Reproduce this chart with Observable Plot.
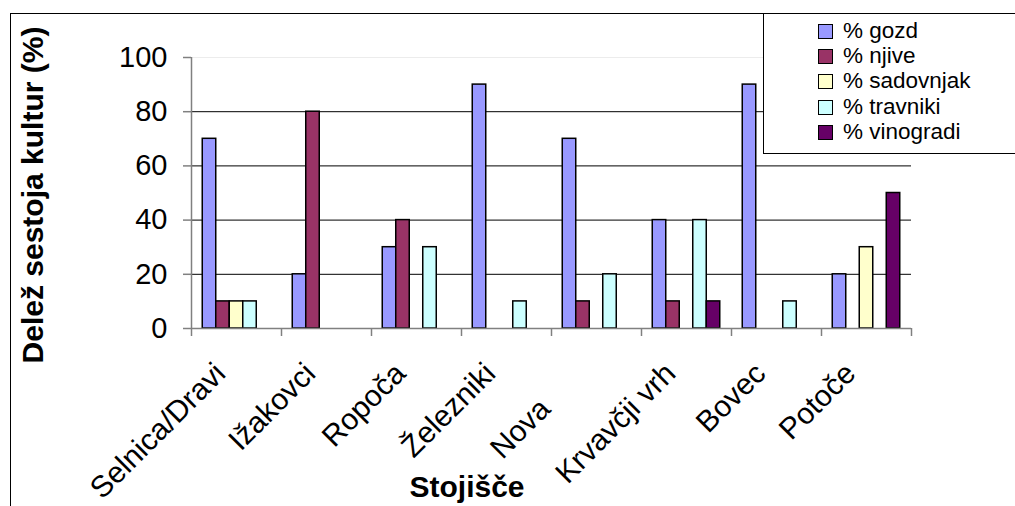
<!DOCTYPE html>
<html>
<head>
<meta charset="utf-8">
<script src="https://cdn.jsdelivr.net/npm/d3@7"></script>
<script src="https://cdn.jsdelivr.net/npm/@observablehq/plot@0.6"></script>
<style>
  html, body { margin: 0; padding: 0; background: #fff; }
  #chart { position: relative; width: 1015px; height: 506px; overflow: hidden;
           font-family: "Liberation Sans", Arial, sans-serif; color: #000; }
  #outer { position: absolute; left: 10px; top: 13px; width: 1200px; height: 700px;
           border: 1px solid #000; box-sizing: border-box; }
  #plot { position: absolute; left: 0; top: 0; }
  #ytitle { position: absolute; left: 33px; top: 195px; transform: translate(-50%, -50%) rotate(-90deg);
            font-weight: bold; font-size: 30px; line-height: 30px; white-space: nowrap; }
  #xtitle { position: absolute; left: 467px; top: 472px; transform: translateX(-50%);
            font-weight: bold; font-size: 30px; line-height: 30px; white-space: nowrap; }
  #legend { position: absolute; left: 763px; top: 13px; width: 300px; height: 141px;
            border: 1px solid #000; box-sizing: border-box; background: #fff; }
  .item { position: absolute; left: 0; height: 22px; font-size: 22.5px; line-height: 22px; white-space: nowrap; }
  .swatch { position: absolute; left: 54px; top: 4px; width: 15px; height: 15px;
            border: 1px solid #000; box-sizing: border-box; }
  .lab { position: absolute; left: 79px; top: 0; }
</style>
</head>
<body>
<div id="chart">
  <div id="outer"></div>
  <div id="plot"></div>
  <div id="ytitle">Delež sestoja kultur (%)</div>
  <div id="xtitle">Stojišče</div>
  <div id="legend"></div>
</div>
<script>
// Stations (categories) and land-use shares per station
const stations = ["Selnica/Dravi", "Ižakovci", "Ropoča", "Železniki", "Nova", "Krvavčji vrh", "Bovec", "Potoče"];
// Axis labels for the stations (the "Nova" label carries trailing spacing)
const stationLabels = ["Selnica/Dravi", "Ižakovci", "Ropoča", "Železniki", "Nova\u00a0\u00a0\u00a0\u00a0\u00a0\u00a0", "Krvavčji vrh", "Bovec", "Potoče"];
const seriesNames = ["% gozd", "% njive", "% sadovnjak", "% travniki", "% vinogradi"];
const gozd      = [70, 20, 30, 90, 70, 40, 90, 20];
const njive     = [10, 80, 40,  0, 10, 10,  0,  0];
const sadovnjak = [10,  0,  0,  0,  0,  0,  0, 30];
const travniki  = [10,  0, 30, 10, 20, 40, 10,  0];
const vinogradi = [ 0,  0,  0,  0,  0, 10,  0, 50];
const seriesColors = ["#9999FF", "#993366", "#FFFFCC", "#CCFFFF", "#660066"];
const yTicks = [0, 20, 40, 60, 80, 100];
const gridValues = [20, 40, 60, 80];

// Long table: one row per station × land-use type
const seriesValues = [gozd, njive, sadovnjak, travniki, vinogradi];
const rows = [];
seriesValues.forEach((vals, s) =>
  vals.forEach((v, i) => rows.push({station: stations[i], series: seriesNames[s], value: v}))
);
const labelOf = new Map(stations.map((s, i) => [s, stationLabels[i]]));

const W = 1015, H = 506;
const mL = 191, mR = 104, mT = 57, mB = 178;
const frameH = H - mT - mB;
const step = (W - mL - mR) / stations.length;

const chart = Plot.plot({
  width: W, height: H,
  marginLeft: mL, marginRight: mR, marginTop: mT, marginBottom: mB,
  style: {fontFamily: '"Liberation Sans", Arial, sans-serif', fontSize: "28px", color: "#000", background: "transparent", overflow: "visible"},
  fx: {domain: stations, padding: 0, round: false, axis: null, label: null},
  x: {domain: seriesNames, paddingInner: 0, paddingOuter: 0.8333, round: false, axis: null},
  y: {domain: [0, 100], axis: null},
  color: {domain: seriesNames, range: seriesColors},
  marks: [
    // horizontal gridlines
    Plot.ruleY(gridValues, {stroke: "#000", strokeWidth: 1}),
    Plot.ruleY([100], {stroke: "#ececec", strokeWidth: 1}),
    // clustered bars
    Plot.barY(rows, {filter: d => d.value > 0, fx: "station", x: "series", y: "value",
                     fill: "series", stroke: "#000", strokeWidth: 1.5}),
    // category axis line and boundary ticks
    Plot.ruleY([0], {stroke: "#808080", strokeWidth: 1.5}),
    Plot.ruleX(stations, {fx: d => d, x: null, dx: -step / 2, insetTop: frameH, insetBottom: -8, stroke: "#808080", strokeWidth: 1.5}),
    Plot.ruleX(stations.slice(-1), {fx: d => d, x: null, dx: step / 2, insetTop: frameH, insetBottom: -8, stroke: "#808080", strokeWidth: 1.5}),
    // value axis line
    Plot.ruleX(stations.slice(0, 1), {fx: d => d, x: null, dx: -step / 2, stroke: "#808080", strokeWidth: 1.5}),
    Plot.axisY({ticks: yTicks, tickSize: 8, tickPadding: 16, stroke: "#808080", strokeWidth: 1.5, color: "#000", label: null, fontSize: 29}),
    Plot.axisFx({anchor: "bottom", tickRotate: -45, tickSize: 0, tickPadding: 40, dx: -16, label: null, fontSize: 30, color: "#000",
                 tickFormat: d => labelOf.get(d)})
  ]
});
document.getElementById("plot").appendChild(chart);

// Legend
const legend = document.getElementById("legend");
const rowStep = 25.4;
seriesNames.forEach((name, i) => {
  const item = document.createElement("div");
  item.className = "item";
  item.style.top = (5.5 + i * rowStep) + "px";
  const sw = document.createElement("div");
  sw.className = "swatch";
  sw.style.background = seriesColors[i];
  const lab = document.createElement("div");
  lab.className = "lab";
  lab.textContent = name;
  item.appendChild(sw);
  item.appendChild(lab);
  legend.appendChild(item);
});
</script>
</body>
</html>
